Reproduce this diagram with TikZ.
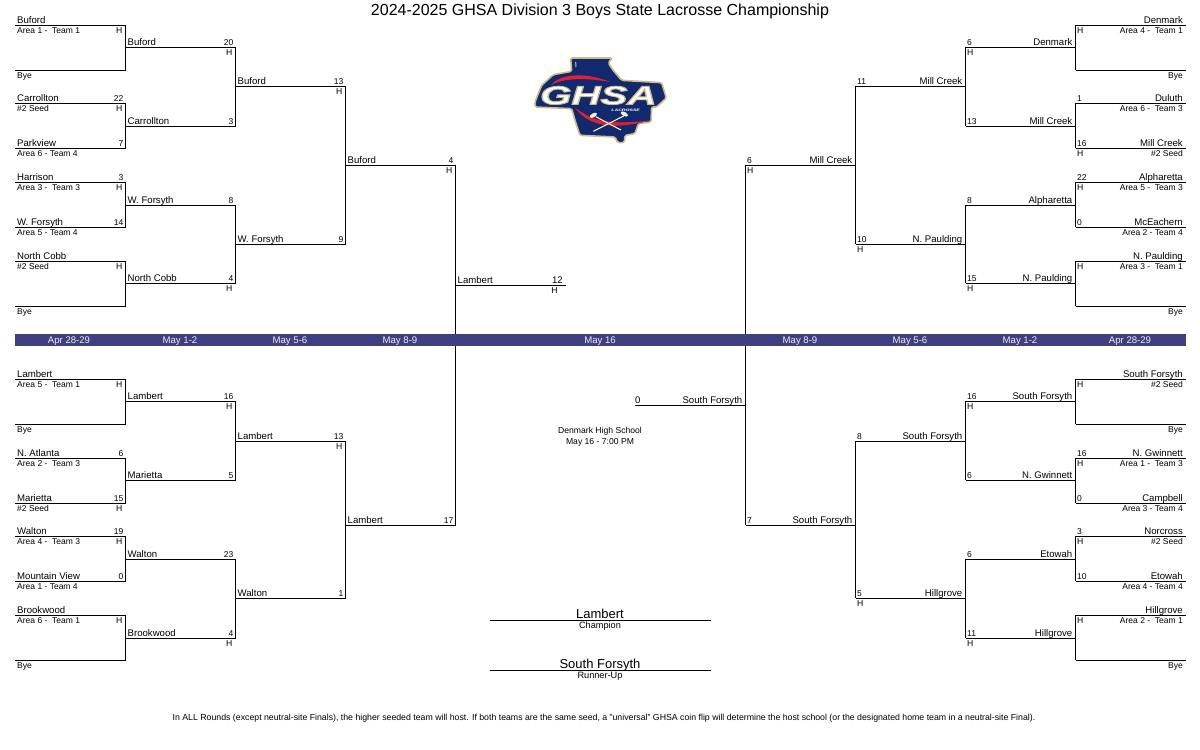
\documentclass[tikz,border=0pt]{standalone}
\usepackage{fontspec}
\setmainfont{Liberation Sans}
\definecolor{barblue}{HTML}{3F3F7F}
\definecolor{logoblue}{HTML}{12296F}
\definecolor{logogold}{HTML}{CDBB86}
\definecolor{logored}{HTML}{E0202E}
\definecolor{logocream}{HTML}{F4EDD2}
\tikzset{
  rule/.style={line width=1pt},
  teamname/.style={font=\fontsize{9.6}{10}\selectfont,inner sep=0pt},
  areainfo/.style={font=\fontsize{8.5}{10}\selectfont,inner sep=0pt},
  goals/.style={font=\fontsize{8.5}{10}\selectfont,inner sep=0pt},
  hostmark/.style={font=\fontsize{8.6}{10}\selectfont,inner sep=0pt},
  bardate/.style={font=\fontsize{9.6}{10}\selectfont,text=white!90!barblue,inner sep=0pt,anchor=base},
  smallnote/.style={font=\fontsize{8.6}{10}\selectfont,inner sep=0pt,anchor=base},
}
% label that is left out when its text is empty
\newcommand{\putlabel}[4]{\edef\tmptext{#4}\ifx\tmptext\empty\else\node[#1] (#2) at #3 {\tmptext};\fi}
% id, inner x, outer x, y, team, goals, info, host
\newcommand{\leftslot}[8]{%
  \coordinate (#1a) at (#2,#4);
  \coordinate (#1b) at (#3,#4);
  \draw[rule] (#1a) -- (#1b);
  \putlabel{teamname,anchor=base west}{#1t}{(#2+2,#4-2.2)}{#5}
  \putlabel{goals,anchor=base east}{#1g}{(#3-2,#4-2)}{#6}
  \putlabel{areainfo,anchor=base west}{#1i}{(#2+2,#4+8.2)}{#7}
  \putlabel{hostmark,anchor=base east}{#1h}{(#3-3,#4+8.4)}{#8}
}
\newcommand{\rightslot}[8]{%
  \coordinate (#1a) at (#2,#4);
  \coordinate (#1b) at (#3,#4);
  \draw[rule] (#1a) -- (#1b);
  \putlabel{teamname,anchor=base east}{#1t}{(#3-3,#4-2.2)}{#5}
  \putlabel{goals,anchor=base west}{#1g}{(#2+1.5,#4-2)}{#6}
  \putlabel{areainfo,anchor=base east}{#1i}{(#3-3,#4+8.2)}{#7}
  \putlabel{hostmark,anchor=base west}{#1h}{(#2+1.5,#4+8.4)}{#8}
}
\newfontfamily\logofont{Liberation Sans}

\begin{document}
\begin{tikzpicture}[x=1pt,y=-1pt]
  \useasboundingbox (0,0) rectangle (1200,750);
  \node[font=\fontsize{16}{18}\selectfont,inner sep=0pt,anchor=base] (title) at (600,15) {2024-2025 GHSA Division 3 Boys State Lacrosse Championship};

  % logo
  \begin{scope}[shift={(525,52)},x=0.3333pt,y=-0.3333pt]
    \draw[draw=logogold,fill=logoblue,line width=1.6pt,line join=round,rounded corners=1.5pt]
      (137,18) -- (262,18) -- (250,32) -- (262,52) -- (290,85) -- (410,92) -- (424,138) -- (395,165)
      -- (380,165) -- (378,210) -- (340,215) -- (330,245) -- (300,250) -- (298,272) -- (278,272)
      -- (270,255) -- (165,250) -- (150,205) -- (140,170) -- (30,165) -- (30,150) -- (50,100)
      -- (85,68) -- (140,58) -- cycle;
    \draw[logogold,line width=1pt] (152,30) -- (153,45);
    \fill[logored] (78,100) .. controls (105,62) and (190,62) .. (255,90) .. controls (190,78) and (115,76) .. cycle;
    \fill[logored] (150,168) .. controls (190,190) and (210,225) .. (378,205) .. controls (240,240) and (185,212) .. cycle;
    \node[font=\logofont\fontsize{26}{26}\selectfont\bfseries\itshape,text=white,xscale=1.55,inner sep=0pt,anchor=base] (ghsa) at (220,157)
      {\special{pdf:code q 2 Tr 0.9 w 0.80 0.73 0.52 RG}GHSA\special{pdf:code Q 0 Tr}};
    \node[font=\logofont\fontsize{3.4}{4}\selectfont\bfseries\itshape,text=white,xscale=1.5,inner sep=0pt,anchor=base] (lax) at (302,179) {LACROSSE};
    \draw[logocream,line width=1.1pt] (212,194) -- (288,234);
    \draw[logocream,line width=1.1pt] (296,192) -- (205,238);
    \fill[logocream,rotate around={30:(205,190)}] (205,190) ellipse (12 and 6);
    \fill[logocream,rotate around={-28:(298,186)}] (298,186) ellipse (12 and 6);
  \end{scope}

  % left half
  \foreach \id/\y/\team/\score/\info/\host in {
    a1/25.3/Buford//Area 1 -\ \ Team 1/H, a2/70.3///Bye/,
    a3/103.3/Carrollton/22/\#2 Seed/H, a4/148.3/Parkview/7/Area 6 - Team 4/,
    a5/182.3/Harrison/3/Area 3 -\ \ Team 3/H, a6/227.3/W. Forsyth/14/Area 5 - Team 4/,
    a7/261.3/North Cobb//\#2 Seed/H, a8/306.3///Bye/,
    a9/379.3/Lambert//Area 5 -\ \ Team 1/H, a10/424.3///Bye/,
    a11/458.3/N. Atlanta/6/Area 2 -\ \ Team 3/, a12/503.3/Marietta/15/\#2 Seed/H,
    a13/536.3/Walton/19/Area 4 -\ \ Team 3/H, a14/581.3/Mountain View/0/Area 1 - Team 4/,
    a15/615.3/Brookwood//Area 6 -\ \ Team 1/H, a16/660.3///Bye/}
    {\leftslot{\id}{15}{125.5}{\y}{\team}{\score}{\info}{\host}}
  \foreach \id/\y/\team/\score/\host in {
    b1/47.3/Buford/20/H, b2/126.3/Carrollton/3/, b3/205.3/W. Forsyth/8/, b4/283.3/North Cobb/4/H,
    b5/401.3/Lambert/16/H, b6/480.3/Marietta/5/, b7/559.3/Walton/23/, b8/638.3/Brookwood/4/H}
    {\leftslot{\id}{125.5}{235.5}{\y}{\team}{\score}{}{\host}}
  \foreach \id/\y/\team/\score/\host in {
    c1/86.3/Buford/13/H, c2/244.3/W. Forsyth/9/, c3/441.3/Lambert/13/H, c4/598.3/Walton/1/}
    {\leftslot{\id}{235.5}{345.5}{\y}{\team}{\score}{}{\host}}
  \foreach \id/\y/\team/\score/\host in {d1/165.3/Buford/4/H, d2/525.3/Lambert/17/}
    {\leftslot{\id}{345.5}{455.5}{\y}{\team}{\score}{}{\host}}
  \leftslot{e1}{455.5}{566}{285.3}{Lambert}{}{}{}
  \node[teamname,anchor=base east] (e1g) at (563,283.5) {12};
  \node[hostmark,anchor=base] (e1h) at (554.5,293) {H};

  % right half
  \foreach \id/\y/\team/\score/\info/\host in {
    p1/25.3/Denmark//Area 4 -\ \ Team 1/H, p2/70.3///Bye/,
    p3/103.3/Duluth/1/Area 6 -\ \ Team 3/, p4/148.3/Mill Creek/16/\#2 Seed/H,
    p5/182.3/Alpharetta/22/Area 5 -\ \ Team 3/H, p6/227.3/McEachern/0/Area 2 - Team 4/,
    p7/261.3/N. Paulding//Area 3 -\ \ Team 1/H, p8/306.3///Bye/,
    p9/379.3/South Forsyth//\#2 Seed/H, p10/424.3///Bye/,
    p11/458.3/N. Gwinnett/16/Area 1 -\ \ Team 3/H, p12/503.3/Campbell/0/Area 3 - Team 4/,
    p13/536.3/Norcross/3/\#2 Seed/H, p14/581.3/Etowah/10/Area 4 - Team 4/,
    p15/615.3/Hillgrove//Area 2 -\ \ Team 1/H, p16/660.3///Bye/}
    {\rightslot{\id}{1075.5}{1186}{\y}{\team}{\score}{\info}{\host}}
  \foreach \id/\y/\team/\score/\host in {
    q1/47.3/Denmark/6/H, q2/126.3/Mill Creek/13/, q3/205.3/Alpharetta/8/, q4/283.3/N. Paulding/15/H,
    q5/401.3/South Forsyth/16/H, q6/480.3/N. Gwinnett/6/, q7/559.3/Etowah/6/, q8/638.3/Hillgrove/11/H}
    {\rightslot{\id}{965.5}{1075.5}{\y}{\team}{\score}{}{\host}}
  \foreach \id/\y/\team/\score/\host in {
    r1/86.3/Mill Creek/11/, r2/244.3/N. Paulding/10/H, r3/441.3/South Forsyth/8/, r4/598.3/Hillgrove/5/H}
    {\rightslot{\id}{855.5}{965.5}{\y}{\team}{\score}{}{\host}}
  \foreach \id/\y/\team/\score/\host in {s1/165.3/Mill Creek/6/H, s2/525.3/South Forsyth/7/}
    {\rightslot{\id}{745.5}{855.5}{\y}{\team}{\score}{}{\host}}
  \rightslot{u1}{635}{745.5}{405.3}{South Forsyth}{}{}{}
  \node[teamname,anchor=base west] (u1g) at (635,403.5) {0};

  % uprights that join each pair of slots
  \foreach \from/\to in {a1/a2,a3/a4,a5/a6,a7/a8,a9/a10,a11/a12,a13/a14,a15/a16,b1/b2,b3/b4,b5/b6,b7/b8,c1/c2,c3/c4,d1/d2}
    \draw[rule] (\from b) -- (\to b);
  \foreach \from/\to in {p1/p2,p3/p4,p5/p6,p7/p8,p9/p10,p11/p12,p13/p14,p15/p16,q1/q2,q3/q4,q5/q6,q7/q8,r1/r2,r3/r4,s1/s2}
    \draw[rule] (\from a) -- (\to a);

  % date bar
  \fill[barblue] (15,334) rectangle (1186,346);
  \foreach \x/\when [count=\n] in {69/Apr 28-29,180/May 1-2,290/May 5-6,400/May 8-9,600/May 16,800/May 8-9,910/May 5-6,1020/May 1-2,1130/Apr 28-29}
    \node[bardate] (date\n) at (\x,343.3) {\when};

  % centre of the sheet
  \node[smallnote] (venue) at (600,433.7) {Denmark High School};
  \node[smallnote] (kickoff) at (600,444) {May 16 - 7:00 PM};
  \coordinate (champa) at (490,620.3);
  \coordinate (champb) at (711,620.3);
  \coordinate (runa) at (490,670.3);
  \coordinate (runb) at (711,670.3);
  \draw[rule] (champa) -- (champb);
  \draw[rule] (runa) -- (runb);
  \node[font=\fontsize{13}{14}\selectfont,inner sep=0pt,anchor=base] (champ) at (600,618.5) {Lambert};
  \node[smallnote,font=\fontsize{9.2}{10}\selectfont] (champlabel) at (600,628) {Champion};
  \node[font=\fontsize{13}{14}\selectfont,inner sep=0pt,anchor=base] (runner) at (600,668.5) {South Forsyth};
  \node[smallnote,font=\fontsize{9.2}{10}\selectfont] (runnerlabel) at (600,678) {Runner-Up};
  \node[smallnote,font=\fontsize{8.75}{10}\selectfont] (footer) at (604,720) {In ALL Rounds (except neutral-site Finals), the higher seeded team will host. If both teams are the same seed, a "universal" GHSA coin flip will determine the host school (or the designated home team in a neutral-site Final).};
\end{tikzpicture}
\end{document}
